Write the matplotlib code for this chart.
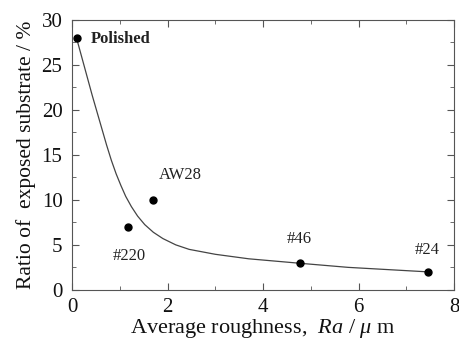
import matplotlib
matplotlib.use("Agg")
import matplotlib.pyplot as plt
from matplotlib.ticker import MultipleLocator

# measured points
labels = ["Polished", "#220", "AW28", "#46", "#24"]
ra = [0.09, 1.17, 1.7, 4.78, 7.45]
ratio = [28, 7, 10, 3, 2]

# fitted curve
curve_x = [0.09, 0.25, 0.42, 0.6, 0.72, 0.82, 0.92, 1.02, 1.12, 1.24, 1.37, 1.52,
           1.7, 1.9, 2.17, 2.45, 3.0, 3.7, 4.78, 5.78, 7.45]
curve_y = [28, 24.9, 21.6, 18.3, 16.1, 14.4, 12.9, 11.6, 10.4, 9.25, 8.2, 7.25,
           6.4, 5.7, 5.0, 4.5, 3.95, 3.45, 2.95, 2.5, 2.0]

# label positions (data coords)
lab_x = [0.39, 1.2, 1.81, 4.76, 7.43]
lab_y = [27.9, 3.8, 12.8, 5.6, 4.45]
lab_ha = ["left", "center", "left", "center", "center"]
lab_wt = ["bold", "normal", "normal", "normal", "normal"]

plt.rcParams["font.family"] = ["Liberation Serif", "DejaVu Serif"]
plt.rcParams["mathtext.fontset"] = "custom"
plt.rcParams["mathtext.it"] = "Liberation Serif:italic"
plt.rcParams["mathtext.rm"] = "Liberation Serif"

fig = plt.figure(figsize=(4.6, 3.39), dpi=100)
ax = fig.add_axes([0.157, 0.145, 0.83, 0.796])

ax.plot(curve_x, curve_y, color="#444444", lw=0.9)
ax.plot(ra, ratio, "o", color="black", ms=5)

for i in range(len(labels)):
    ax.text(lab_x[i], lab_y[i], labels[i], ha=lab_ha[i], va="center",
            fontsize=12, fontweight=lab_wt[i], color="#222222")

ax.set_xlim(0, 8)
ax.set_ylim(0, 30)
ax.xaxis.set_major_locator(MultipleLocator(2))
ax.xaxis.set_minor_locator(MultipleLocator(1))
ax.yaxis.set_major_locator(MultipleLocator(5))
ax.yaxis.set_minor_locator(MultipleLocator(2.5))
ax.tick_params(which="both", direction="in", top=True, right=True,
               color="#555555", labelsize=15, labelcolor="#111111")
ax.tick_params(axis="y", pad=7)
ax.tick_params(axis="x", pad=6)
ax.tick_params(which="major", length=5)
ax.tick_params(which="minor", length=3)
for s in ax.spines.values():
    s.set_color("#555555")

ax.set_xlabel("Average roughness,  $Ra$ / $\\mu$ m", fontsize=16, labelpad=0,
              color="#111111")
ax.set_ylabel("Ratio of  exposed substrate / %", fontsize=15.5, labelpad=4,
              color="#111111")

fig.savefig("out.png", dpi=100)
